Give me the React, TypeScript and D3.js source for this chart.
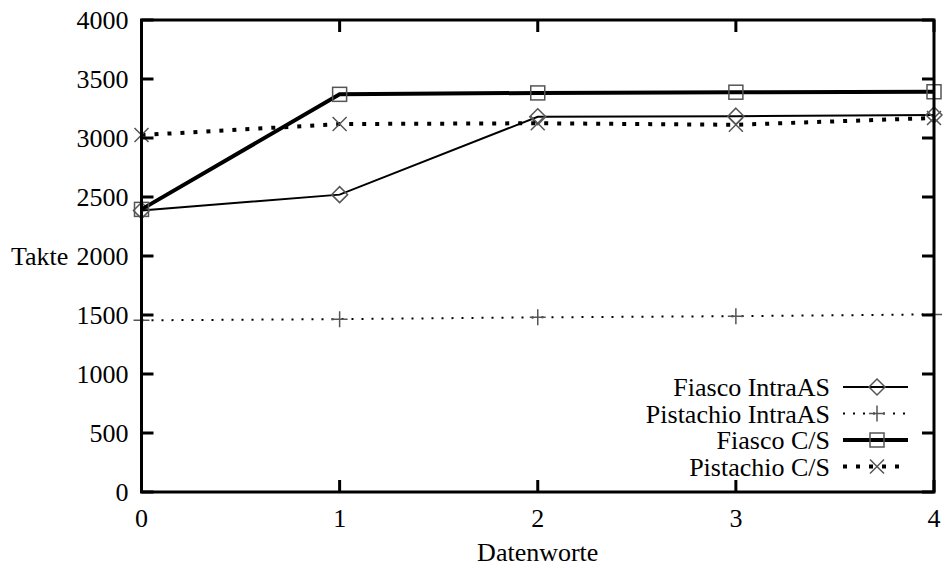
import React, { useRef, useEffect } from 'react';
import * as d3 from 'd3';

const xValues = [0, 1, 2, 3, 4];
const fiascoIntra = [2385, 2520, 3180, 3185, 3195];
const pistachioIntra = [1455, 1465, 1480, 1490, 1505];
const fiascoCS = [2395, 3370, 3382, 3388, 3392];
const pistachioCS = [3025, 3118, 3125, 3112, 3170];
const yTicks = [0, 500, 1000, 1500, 2000, 2500, 3000, 3500, 4000];
const xTicks = [0, 1, 2, 3, 4];

const seriesList = [
  { name: 'Fiasco IntraAS', values: fiascoIntra, width: 2, dash: null, marker: 'diamond' },
  { name: 'Pistachio IntraAS', values: pistachioIntra, width: 2, dash: '2,8', marker: 'plus' },
  { name: 'Fiasco C/S', values: fiascoCS, width: 4, dash: null, marker: 'square' },
  { name: 'Pistachio C/S', values: pistachioCS, width: 4, dash: '4,9', marker: 'cross' },
];

const W = 945;
const H = 570;
const left = 141.5;
const right = 934;
const top = 20;
const bottom = 492;

const App: React.FC = () => {
  const svgRef = useRef<SVGSVGElement>(null);

  useEffect(() => {
    if (!svgRef.current) return;
    const svg = d3.select(svgRef.current);
    svg.selectAll('*').remove();

    const x = d3.scaleLinear().domain([0, 4]).range([left, right]);
    const y = d3.scaleLinear().domain([0, 4000]).range([bottom, top]);
    const font = '"Liberation Serif", "Times New Roman", serif';
    const fs = 26;

    // markers
    const drawMarker = (g: any, kind: string, cx: number, cy: number) => {
      const s = 7;
      let el: any;
      if (kind === 'diamond') {
        el = g.append('path').attr('d', `M${cx},${cy - s - 1}L${cx + s + 1},${cy}L${cx},${cy + s + 1}L${cx - s - 1},${cy}Z`);
      } else if (kind === 'square') {
        el = g.append('rect').attr('x', cx - s).attr('y', cy - s).attr('width', 2 * s).attr('height', 2 * s);
      } else if (kind === 'plus') {
        el = g.append('path').attr('d', `M${cx - s - 1},${cy}H${cx + s + 1}M${cx},${cy - s - 1}V${cy + s + 1}`);
      } else {
        el = g.append('path').attr('d', `M${cx - s},${cy - s}L${cx + s},${cy + s}M${cx - s},${cy + s}L${cx + s},${cy - s}`);
      }
      el.attr('stroke', '#555').attr('stroke-width', 1.5).attr('fill', 'none');
    };

    const line = d3.line<number>().x((_, i) => x(xValues[i])).y(d => y(d));

    seriesList.forEach(s => {
      svg.append('path')
        .datum(s.values)
        .attr('d', line)
        .attr('fill', 'none')
        .attr('stroke', '#000')
        .attr('stroke-width', s.width)
        .attr('stroke-dasharray', s.dash)
        .attr('stroke-linejoin', 'miter');
      const g = svg.append('g');
      s.values.forEach((v, i) => drawMarker(g, s.marker, x(xValues[i]), y(v)));
    });

    // border and ticks
    svg.append('rect')
      .attr('x', left).attr('y', top)
      .attr('width', right - left).attr('height', bottom - top)
      .attr('fill', 'none').attr('stroke', '#000').attr('stroke-width', 3);

    yTicks.forEach(t => {
      svg.append('line').attr('x1', left).attr('x2', left + 12).attr('y1', y(t)).attr('y2', y(t))
        .attr('stroke', '#000').attr('stroke-width', 3);
      svg.append('line').attr('x1', right).attr('x2', right - 12).attr('y1', y(t)).attr('y2', y(t))
        .attr('stroke', '#000').attr('stroke-width', 3);
      svg.append('text').attr('x', left - 13).attr('y', y(t) + 9)
        .attr('text-anchor', 'end').attr('font-family', font).attr('font-size', fs).text(t);
    });
    xTicks.forEach(t => {
      svg.append('line').attr('x1', x(t)).attr('x2', x(t)).attr('y1', bottom).attr('y2', bottom - 12)
        .attr('stroke', '#000').attr('stroke-width', 3);
      svg.append('line').attr('x1', x(t)).attr('x2', x(t)).attr('y1', top).attr('y2', top + 12)
        .attr('stroke', '#000').attr('stroke-width', 3);
      svg.append('text').attr('x', x(t)).attr('y', 527)
        .attr('text-anchor', 'middle').attr('font-family', font).attr('font-size', fs).text(t);
    });

    svg.append('text').attr('x', 11).attr('y', y(2000) + 9)
      .attr('font-family', font).attr('font-size', fs).text('Takte');
    svg.append('text').attr('x', (left + right) / 2).attr('y', 561)
      .attr('text-anchor', 'middle').attr('font-family', font).attr('font-size', fs).text('Datenworte');

    // legend
    seriesList.forEach((s, i) => {
      const ly = 387 + i * 26.5;
      svg.append('text').attr('x', 830).attr('y', ly + 9)
        .attr('text-anchor', 'end').attr('font-family', font).attr('font-size', fs).text(s.name);
      svg.append('line').attr('x1', 843).attr('x2', 908).attr('y1', ly).attr('y2', ly)
        .attr('stroke', '#000').attr('stroke-width', s.width).attr('stroke-dasharray', s.dash);
      drawMarker(svg.append('g'), s.marker, 877, ly);
    });
  }, []);

  return <svg ref={svgRef} width={W} height={H} style={{ position: 'absolute', left: 0, top: 0 }}></svg>;
};

export default App;
